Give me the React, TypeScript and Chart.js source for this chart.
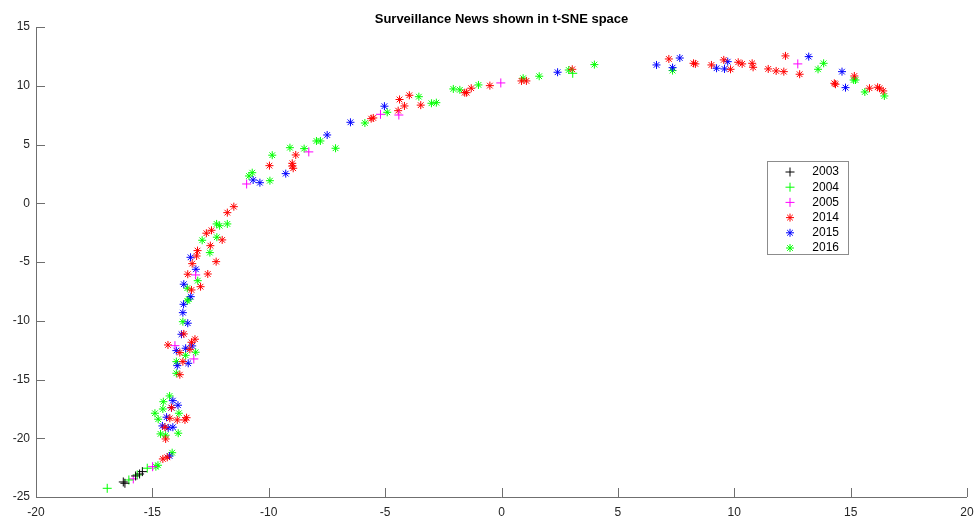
import React, { useEffect, useRef } from 'react';
import { Chart, registerables } from 'chart.js';
import { drawPoint } from 'chart.js/helpers';

Chart.register(...registerables);

const titleText = 'Surveillance News shown in t-SNE space';
const xTicks = [-20, -15, -10, -5, 0, 5, 10, 15, 20];
const yTicks = [-25, -20, -15, -10, -5, 0, 5, 10, 15];

const seriesLabels = ['2003', '2004', '2005', '2014', '2015', '2016'];
const seriesColors = ['#000000', '#00ff00', '#ff00ff', '#ff0000', '#0000ff', '#00ff00'];
const seriesMarkers = ['cross', 'cross', 'cross', 'star', 'star', 'star'];

const s2003: number[][] = [
  [-15.43, -22.84], [-15.55, -23.04], [-15.72, -23.21], [-16.25, -23.72], [-16.18, -23.83],
];
const s2004: number[][] = [
  [-15.22, -22.55], [-15.65, -23.12], [-16.01, -23.55], [-16.94, -24.26], [3.06, 11.06],
];
const s2005: number[][] = [
  [-14.99, -22.42], [-15.82, -23.46], [-14.03, -12.12], [-13.22, -13.25], [-13.14, -6.10],
  [-10.95, 1.64], [-8.28, 4.37], [-5.20, 7.57], [-4.41, 7.51], [-0.03, 10.24], [12.73, 11.86],
];
const s2014: number[][] = [
  [-13.17, -11.57], [-13.32, -11.83], [-14.33, -12.06], [-13.39, -12.43], [-13.82, -12.71],
  [-13.69, -13.48], [-13.82, -14.59], [-14.18, -17.40], [-14.25, -18.30], [-13.93, -18.44],
  [-13.53, -18.25], [-13.60, -18.44], [-14.46, -19.06], [-14.43, -20.06], [-14.36, -21.62],
  [-14.55, -21.76], [-13.65, -11.12],
  [-9.97, 3.20], [-11.50, -0.29], [-11.78, -0.80], [-12.46, -2.30], [-12.68, -2.55],
  [-12.00, -3.12], [-12.51, -3.61], [-13.06, -4.03], [-13.10, -4.49], [-12.26, -4.97],
  [-13.29, -5.14], [-13.48, -6.04], [-12.62, -6.02], [-12.93, -7.10], [-13.32, -7.38],
  [-8.84, 4.11], [-8.99, 3.40], [-8.99, 3.17], [-8.95, 2.98], [-5.60, 7.20], [-5.51, 7.26],
  [-4.38, 8.83], [-4.44, 7.88], [-4.17, 8.28], [-3.96, 9.19], [-3.47, 8.35], [-1.58, 9.41],
  [-1.50, 9.41], [-1.30, 9.79], [-0.50, 10.01],
  [0.86, 10.41], [1.07, 10.41], [3.04, 11.40], [7.19, 12.28], [8.25, 11.91], [8.33, 11.86],
  [9.02, 11.77], [9.55, 12.20], [9.84, 11.40], [10.17, 12.00], [10.34, 11.86], [10.77, 11.91],
  [10.81, 11.57], [11.46, 11.43], [11.80, 11.26], [12.13, 11.20], [12.20, 12.54], [12.81, 10.98],
  [15.16, 10.83], [14.30, 10.21], [14.35, 10.13], [15.81, 9.79], [16.16, 9.87], [16.24, 9.79],
  [16.40, 9.56],
];
const s2015: number[][] = [
  [-13.75, -11.15], [-13.29, -12.14], [-13.57, -12.34], [-13.97, -12.54], [-13.46, -13.62],
  [-13.93, -13.82], [-14.12, -16.80], [-13.90, -17.19], [-14.18, -17.40], [-14.39, -18.21],
  [-14.57, -18.95], [-14.32, -19.12], [-14.12, -19.06], [-14.26, -21.51],
  [-10.67, 1.98], [-10.38, 1.75], [-13.36, -4.60], [-13.13, -5.62], [-13.65, -6.89],
  [-13.35, -7.95], [-13.66, -8.60], [-13.69, -9.31], [-13.48, -10.21],
  [-9.27, 2.52], [-7.49, 5.81], [-6.49, 6.89], [-5.03, 8.26],
  [2.41, 11.15], [6.66, 11.77], [7.66, 12.36], [7.35, 11.54],
  [9.24, 11.49], [9.72, 12.05], [9.58, 11.43], [13.20, 12.48], [14.63, 11.20], [14.78, 9.84],
];
const s2016: number[][] = [
  [-13.14, -12.68], [-13.57, -12.94], [-13.97, -13.48], [-13.97, -14.47], [-14.26, -16.40],
  [-14.53, -16.89], [-14.55, -17.51], [-13.86, -17.87], [-14.89, -17.87], [-14.75, -18.38],
  [-14.65, -19.63], [-13.89, -19.57], [-14.15, -21.23], [-14.76, -22.30], [-14.85, -22.42],
  [-14.43, -19.74],
  [-10.71, 2.60], [-10.85, 2.32], [-9.95, 1.92], [-12.24, -1.76], [-12.11, -1.91],
  [-11.78, -1.76], [-12.86, -3.15], [-12.23, -2.89], [-12.53, -4.20], [-13.05, -6.59],
  [-13.50, -7.23], [-13.50, -8.31], [-13.43, -8.17], [-13.69, -10.08],
  [-9.85, 4.09], [-9.09, 4.73], [-8.48, 4.65], [-7.95, 5.30], [-7.78, 5.30], [-7.13, 4.68],
  [-5.87, 6.83], [-4.91, 7.74], [-3.55, 9.07], [-3.01, 8.51], [-2.80, 8.56], [-2.07, 9.73],
  [-1.79, 9.65], [-0.99, 10.07],
  [0.93, 10.64], [1.62, 10.81], [2.89, 11.34], [3.99, 11.80], [7.35, 11.29],
  [13.84, 11.91], [13.60, 11.40], [15.13, 10.49], [15.21, 10.49], [15.61, 9.47], [16.45, 9.13],
];

const seriesData = [s2003, s2004, s2005, s2014, s2015, s2016];

const AXIS_COLOR = '#6f6f6f';
const TEXT_COLOR = '#262626';
const TICK_FONT = '"Liberation Sans Narrow", "Liberation Sans", Arial, sans-serif';

const axesPlugin = {
  id: 'matlabAxes',
  afterDraw(chart: any) {
    const ctx = chart.ctx;
    const { left, right, top, bottom } = chart.chartArea;
    const xs = chart.scales.x;
    const ys = chart.scales.y;
    ctx.save();
    ctx.strokeStyle = AXIS_COLOR;
    ctx.lineWidth = 1;
    ctx.beginPath();
    ctx.moveTo(Math.round(left) + 0.5, top);
    ctx.lineTo(Math.round(left) + 0.5, Math.round(bottom) + 0.5);
    ctx.lineTo(right, Math.round(bottom) + 0.5);
    xTicks.forEach((v) => {
      const px = Math.round(xs.getPixelForValue(v)) + 0.5;
      ctx.moveTo(px, bottom);
      ctx.lineTo(px, bottom - 9);
    });
    yTicks.forEach((v) => {
      const py = Math.round(ys.getPixelForValue(v)) + 0.5;
      ctx.moveTo(left, py);
      ctx.lineTo(left + 9, py);
    });
    ctx.stroke();

    // title
    ctx.fillStyle = '#000';
    ctx.font = 'bold 13px "Liberation Sans", Arial, sans-serif';
    ctx.textAlign = 'center';
    ctx.textBaseline = 'middle';
    ctx.fillText(titleText, (left + right) / 2, 19);

    // legend
    const bx = 767, by = 161, bw = 81, bh = 93;
    ctx.fillStyle = '#ffffff';
    ctx.fillRect(bx, by, bw, bh);
    ctx.strokeStyle = '#8c8c8c';
    ctx.strokeRect(bx + 0.5, by + 0.5, bw, bh);
    ctx.font = '12px "Liberation Sans", Arial, sans-serif';
    ctx.textAlign = 'right';
    ctx.textBaseline = 'middle';
    seriesLabels.forEach((lab, i) => {
      const yy = by + 11 + i * 15.2;
      ctx.strokeStyle = seriesColors[i];
      ctx.fillStyle = seriesColors[i];
      ctx.lineWidth = 1;
      drawPoint(ctx, { pointStyle: seriesMarkers[i] as any, radius: seriesMarkers[i] === 'cross' ? 4.5 : 4, rotation: 0, borderWidth: 1 } as any, bx + 23, yy);
      ctx.fillStyle = '#000';
      ctx.fillText(lab, bx + 72, yy);
    });
    ctx.restore();
  },
};

export default function App() {
  const ref = useRef<HTMLCanvasElement | null>(null);
  useEffect(() => {
    if (!ref.current) return;
    const chart = new Chart(ref.current, {
      type: 'scatter',
      data: {
        datasets: seriesLabels.map((lab, i) => ({
          label: lab,
          data: seriesData[i].map((p) => ({ x: p[0], y: p[1] })),
          pointStyle: seriesMarkers[i] as any,
          pointRadius: seriesMarkers[i] === 'cross' ? 4.5 : 4,
          borderColor: seriesColors[i],
          backgroundColor: seriesColors[i],
          borderWidth: 1,
          pointHoverRadius: 4,
        })),
      },
      options: {
        animation: false,
        responsive: false,
        maintainAspectRatio: false,
        layout: { padding: { top: 27, right: 9, left: 0, bottom: 0 } },
        plugins: {
          legend: { display: false },
          title: { display: false },
          tooltip: { enabled: false },
        },
        scales: {
          x: {
            type: 'linear',
            min: -20,
            max: 20,
            afterFit: (s: any) => {
              s.height = 21;
              s.paddingLeft = 0;
              s.paddingRight = 0;
            },
            afterBuildTicks: (s: any) => { s.ticks = xTicks.map((v) => ({ value: v })); },
            grid: { display: false, drawTicks: false },
            border: { display: false },
            ticks: {
              color: TEXT_COLOR,
              font: { family: TICK_FONT, size: 12 },
              padding: 8,
              maxRotation: 0,
              autoSkip: false,
            },
          },
          y: {
            type: 'linear',
            min: -25,
            max: 15,
            afterFit: (s: any) => {
              s.width = 36;
              s.paddingTop = 0;
              s.paddingBottom = 0;
            },
            afterBuildTicks: (s: any) => { s.ticks = yTicks.map((v) => ({ value: v })); },
            grid: { display: false, drawTicks: false },
            border: { display: false },
            ticks: {
              color: TEXT_COLOR,
              font: { family: TICK_FONT, size: 12 },
              padding: 6,
              autoSkip: false,
            },
          },
        },
      },
      plugins: [axesPlugin],
    } as any);
    return () => chart.destroy();
  }, []);
  return (
    <div style={{ position: 'absolute', left: 0, top: 0, width: 976, height: 518, background: '#fff' }}>
      <canvas ref={ref} width={976} height={518} style={{ width: 976, height: 518, display: 'block' }} />
    </div>
  );
}
